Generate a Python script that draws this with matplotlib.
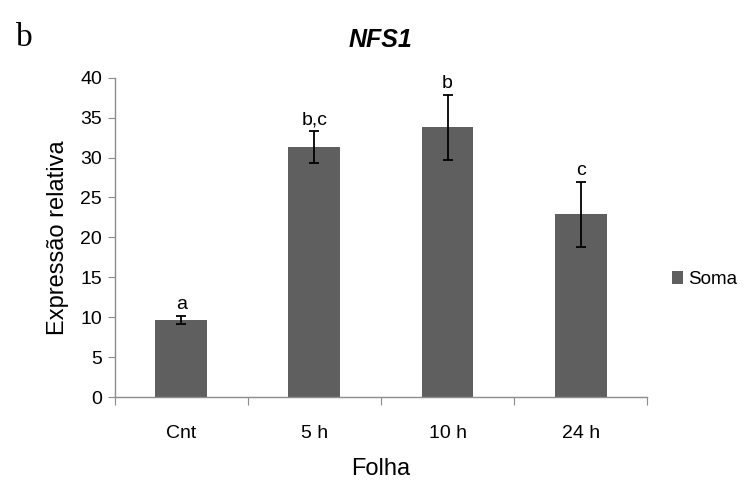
import matplotlib
matplotlib.use("Agg")
import matplotlib.pyplot as plt
from matplotlib.patches import Patch

categories = ["Cnt", "5 h", "10 h", "24 h"]
values = [9.7, 31.3, 33.8, 22.9]
errors = [0.5, 2.0, 4.1, 4.1]
letters = ["a", "b,c", "b", "c"]
yticks = [0, 5, 10, 15, 20, 25, 30, 35, 40]

plt.rcParams["font.family"] = ["Liberation Sans", "DejaVu Sans"]

bar_color = "#5f5f5f"
axis_color = "#8c8c8c"

fig = plt.figure(figsize=(7.44, 4.83), dpi=100)
ax = fig.add_axes([0.154, 0.178, 0.716, 0.661])

x = list(range(len(categories)))
ax.bar(x, values, width=0.39, color=bar_color, zorder=2)
ax.errorbar(x, values, yerr=errors, fmt="none", ecolor="black",
            elinewidth=1.3, capsize=3.5, capthick=1.3, zorder=3)
for xi, v, e, t in zip(x, values, errors, letters):
    ax.annotate(t, (xi, v + e), xytext=(0, 2), textcoords="offset points",
                ha="center", va="bottom", fontsize=14)

ax.set_xlim(-0.5, len(categories) - 0.5)
ax.set_ylim(0, 40)
ax.set_yticks(yticks)
ax.set_yticklabels([str(t) for t in yticks], fontsize=14)

# category labels sit between boundary ticks
ax.set_xticks([i - 0.5 for i in range(len(categories) + 1)])
ax.set_xticklabels([])
ax.set_xticks(x, minor=True)
ax.set_xticklabels(categories, minor=True, fontsize=14)
ax.tick_params(axis="x", which="major", length=6, color=axis_color, direction="out")
ax.tick_params(axis="x", which="minor", length=0, pad=20)
ax.tick_params(axis="y", length=5, color=axis_color, direction="out", pad=4)

for s in ["top", "right"]:
    ax.spines[s].set_visible(False)
for s in ["left", "bottom"]:
    ax.spines[s].set_color(axis_color)
    ax.spines[s].set_linewidth(1.0)

ax.set_ylabel("Expressão relativa", fontsize=17, labelpad=8)
ax.set_xlabel("Folha", fontsize=17, labelpad=12)
ax.set_title("NFS1", fontsize=18, fontweight="bold", fontstyle="italic", pad=22)

fig.legend(handles=[Patch(facecolor=bar_color, label="Soma")],
           loc="center left", bbox_to_anchor=(0.903, 0.422), frameon=False,
           borderpad=0, borderaxespad=0,
           fontsize=13.5, handlelength=0.6, handleheight=0.7, handletextpad=0.25)

fig.text(0.022, 0.905, "b", fontsize=24, family="Liberation Serif")

fig.savefig("out.png", dpi=100)
